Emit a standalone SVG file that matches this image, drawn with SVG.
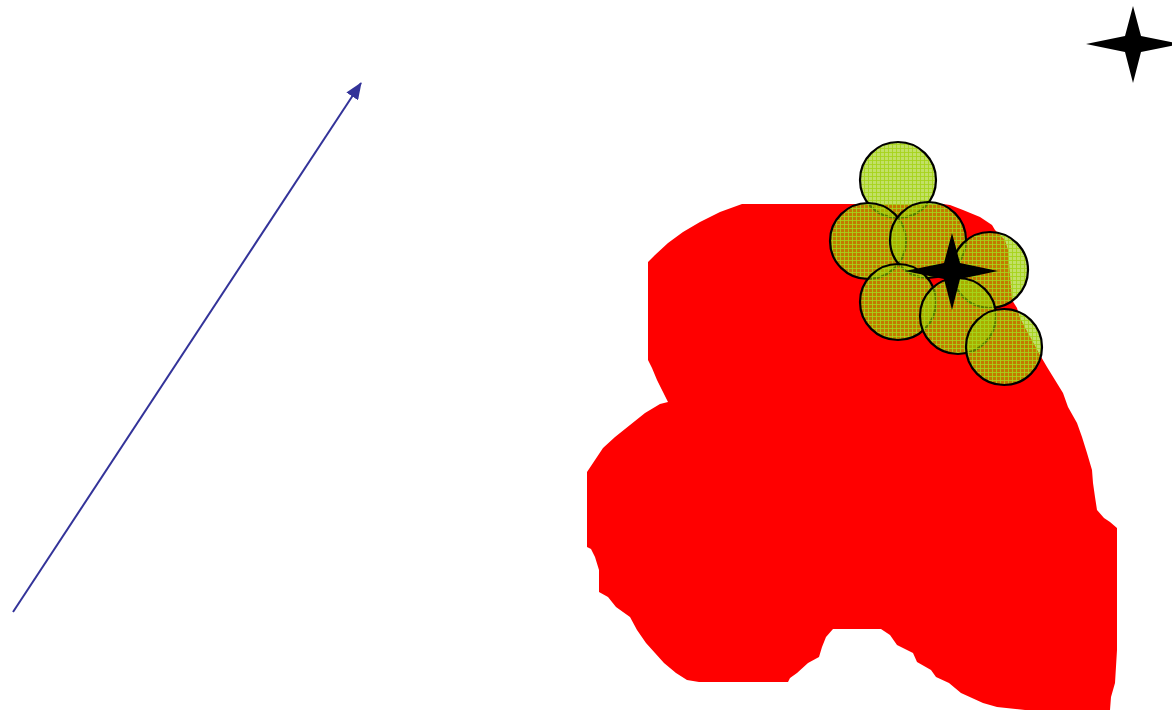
<svg xmlns="http://www.w3.org/2000/svg" width="1172" height="711" viewBox="0 0 1172 711">
<style>
.blob{fill:#ff0000;stroke:none}
.disc{fill:url(#grid);stroke:#000;stroke-width:2.2}
.star{fill:#000;stroke:none}
.arrow{stroke:#333399;stroke-width:2;fill:none}
</style>
<defs>
<pattern id="grid" width="4" height="4" patternUnits="userSpaceOnUse">
<rect width="4" height="4" fill="#99cc00" fill-opacity="0.6"/>
<rect width="1" height="4" fill="#a6d41a" fill-opacity="0.85"/>
<rect width="4" height="1" fill="#a6d41a" fill-opacity="0.85"/>
</pattern>
<marker id="ah" viewBox="0 0 17 14" refX="16" refY="7" markerWidth="17" markerHeight="14" markerUnits="userSpaceOnUse" orient="auto">
<path d="M0,0 L17,7 L0,14 Z" fill="#333399"/>
</marker>
</defs>
<rect width="1172" height="711" fill="#fff"/>
<g id="region">
<path class="blob" d="M742,204 L943,204 L950,205 L963,210 L980,217 L992,225 L995,230 L1005,240 L1008,250 L1010,275 L1012,300 L1017,308 L1020,318 L1028,333 L1040,355 L1047,367 L1055,380 L1063,393 L1068,407 L1077,423 L1082,437 L1087,453 L1092,470 L1093,483 L1095,497 L1097,510 L1104,518 L1110,522 L1117,528 L1117,650 L1115,683 L1111,697 L1110,710 L1025,710 L997,707 L983,703 L961,693 L949,683 L936,677 L931,670 L917,662 L913,653 L897,645 L890,635 L881,629 L833,629 L826,637 L822,647 L819,657 L808,663 L797,673 L790,678 L788,682 L699,682 L687,680 L676,673 L664,663 L655,653 L646,643 L637,630 L630,617 L616,607 L608,597 L599,592 L599,570 L595,557 L591,549 L587,547 L587,472 L595,460 L603,448 L615,437 L630,425 L645,413 L660,404 L668,402 L663,392 L657,380 L652,368 L648,360 L648,262 L655,255 L668,243 L683,232 L700,222 L720,212 Z"/>
</g>
<g id="circles">
<circle id="c1" class="disc" cx="898" cy="180" r="38"/>
<circle id="c2" class="disc" cx="868" cy="241" r="38"/>
<circle id="c3" class="disc" cx="928" cy="240" r="38"/>
<circle id="c4" class="disc" cx="990" cy="270" r="38"/>
<circle id="c5" class="disc" cx="898" cy="302" r="38"/>
<circle id="c6" class="disc" cx="958" cy="316" r="38"/>
<circle id="c7" class="disc" cx="1004" cy="347" r="38"/>
</g>
<g id="star-mid">
<path class="star" d="M952,233 L960,263 L998,271 L960,279 L952,310 L944,279 L905,271 L944,263 Z"/>
</g>
<g id="star-corner">
<path class="star" d="M1133,6 L1141,36 L1180,44 L1141,52 L1133,83 L1125,52 L1086,44 L1125,36 Z"/>
</g>
<g id="connectors">
<line class="arrow" x1="13" y1="612" x2="361" y2="83" marker-end="url(#ah)"/>
</g>
</svg>
